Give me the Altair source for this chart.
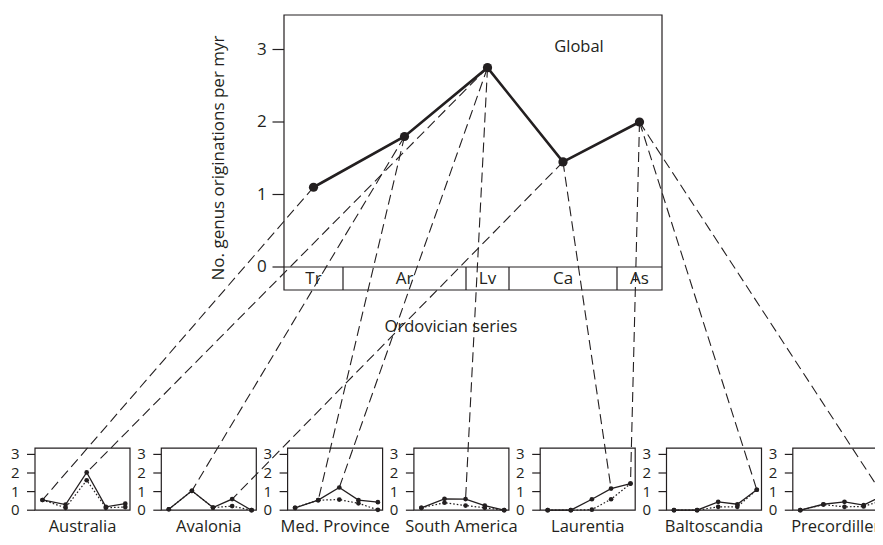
import altair as alt
import pandas as pd

# ---------------- data ----------------
series = ["Tr", "Ar", "Lv", "Ca", "As"]
series_edges = [0, 59, 182, 225, 333, 378]          # relative box widths of the series
global_rate = [1.1, 1.8, 2.75, 1.45, 2.0]

regions = ["Australia", "Avalonia", "Med. Province", "South America",
           "Laurentia", "Baltoscandia", "Precordillera"]

australia_solid = [0.55, 0.30, 2.03, 0.18, 0.35]
australia_dotted = [0.55, 0.13, 1.61, 0.13, 0.17]
avalonia_solid = [0.05, 1.04, 0.14, 0.60, 0.00]
avalonia_dotted = [0.05, 1.04, 0.14, 0.22, 0.00]
medprov_solid = [0.13, 0.54, 1.22, 0.54, 0.43]
medprov_dotted = [0.13, 0.54, 0.57, 0.37, 0.02]
samerica_solid = [0.13, 0.61, 0.60, 0.25, 0.00]
samerica_dotted = [0.13, 0.40, 0.25, 0.13, 0.00]
laurentia_solid = [0.00, 0.00, 0.59, 1.16, 1.43]
laurentia_dotted = [0.00, 0.00, 0.03, 0.59, 1.43]
baltoscandia_solid = [0.00, 0.00, 0.45, 0.32, 1.10]
baltoscandia_dotted = [0.00, 0.00, 0.18, 0.18, 1.10]
precordillera_solid = [0.00, 0.32, 0.45, 0.27, 0.80]
precordillera_dotted = [0.00, 0.30, 0.18, 0.20, 0.54]

link_series = ["Tr", "Ar", "Ar", "Lv", "Lv", "Lv", "Ca", "Ca", "As", "As", "As"]
link_region = ["Australia", "Avalonia", "Med. Province", "Australia", "Med. Province",
               "South America", "Avalonia", "Laurentia", "Laurentia", "Baltoscandia",
               "Precordillera"]

main_ticks = [0, 1, 2, 3]
panel_ticks = [0, 1, 2, 3]

y_title = "No. genus originations per myr"
x_title = "Ordovician series"
main_label = "Global"

solid_by_region = [australia_solid, avalonia_solid, medprov_solid, samerica_solid,
                   laurentia_solid, baltoscandia_solid, precordillera_solid]
dotted_by_region = [australia_dotted, avalonia_dotted, medprov_dotted, samerica_dotted,
                    laurentia_dotted, baltoscandia_dotted, precordillera_dotted]

# ---------------- layout (page pixels) ----------------
M_LEFT, M_WIDTH, M_TOP, M_BOTTOM = 284, 378, 15, 290
M_ZERO, M_UNIT = 267, 72.5
P_LEFT0, P_STEP, P_W, P_XSPAN = 35, 126.3, 95, 96
P_TOP, P_ZERO, P_UNIT = 448.2, 510.2, 18.6
NAME_BASE = 531.5
W, H = 867, 529
INK = "#231f20"
FONT = "Open Sans"


def fx(px):
    return (px - M_LEFT) / M_WIDTH


def vy(py):
    return (M_ZERO - py) / M_UNIT


edge_frac = [e / series_edges[-1] for e in series_edges]
mid_frac = [(edge_frac[i] + edge_frac[i + 1]) / 2 for i in range(len(series))]


def panel_left(k):
    return P_LEFT0 + k * P_STEP


def panel_x(k, f):
    return fx(panel_left(k) + f * P_XSPAN)


def panel_y(v):
    return vy(P_ZERO - v * P_UNIT)


XS = alt.Scale(domain=[fx(8), fx(8 + W)], nice=False, zero=False)
YS = alt.Scale(domain=[vy(8 + H), vy(8)], nice=False, zero=False)


def X(f="x"):
    return alt.X(f"{f}:Q", scale=XS, axis=None)


def Y(f="y"):
    return alt.Y(f"{f}:Q", scale=YS, axis=None)


# frames
frames = [dict(x=0, x2=1, y=vy(M_BOTTOM), y2=vy(M_TOP))]
for k in range(len(regions)):
    frames.append(dict(x=fx(panel_left(k)), x2=fx(panel_left(k) + P_W),
                       y=panel_y(0), y2=vy(P_TOP)))
frames_df = pd.DataFrame(frames)

# horizontal rules: zero line + ticks
hrules = [dict(x=0, x2=1, y=0)]
for t in main_ticks:
    hrules.append(dict(x=fx(M_LEFT - 11.5), x2=0, y=t))
for k in range(len(regions)):
    for t in panel_ticks:
        hrules.append(dict(x=fx(panel_left(k) - 8), x2=fx(panel_left(k)), y=panel_y(t)))
hrules_df = pd.DataFrame(hrules)

# vertical dividers of the series boxes
vrules_df = pd.DataFrame([dict(x=edge_frac[i], y=vy(M_BOTTOM), y2=0)
                          for i in range(1, len(series))])

# texts
stage_txt = pd.DataFrame([dict(x=mid_frac[i], y=vy(278.5), text=s) for i, s in enumerate(series)])
main_tick_txt = pd.DataFrame([dict(x=fx(M_LEFT - 17.3), y=t, text=str(t)) for t in main_ticks])
panel_tick_txt = pd.DataFrame([dict(x=fx(panel_left(k) - 15.5), y=panel_y(t), text=str(t))
                               for k in range(len(regions)) for t in panel_ticks])
name_txt = pd.DataFrame([dict(x=fx(panel_left(k) + P_W / 2), y=vy(NAME_BASE), text=r)
                         for k, r in enumerate(regions)])
misc_txt = pd.DataFrame([dict(x=fx(579), y=vy(51.5), text=main_label),
                         dict(x=fx(451), y=vy(331.5), text=x_title)])
title_txt = pd.DataFrame([dict(x=fx(219), y=vy(158), text=y_title)])

# series data
global_df = pd.DataFrame(dict(x=mid_frac, y=global_rate, idx=list(range(len(series)))))
rows = []
for k, r in enumerate(regions):
    for i in range(len(series)):
        rows.append(dict(region=r, idx=i, kind="solid", x=panel_x(k, mid_frac[i]),
                         y=panel_y(solid_by_region[k][i])))
        rows.append(dict(region=r, idx=i, kind="dotted", x=panel_x(k, mid_frac[i]),
                         y=panel_y(dotted_by_region[k][i])))
panel_df = pd.DataFrame(rows)

links = []
for s, r in zip(link_series, link_region):
    i = series.index(s)
    k = regions.index(r)
    links.append(dict(x=mid_frac[i], y=global_rate[i],
                      x2=panel_x(k, mid_frac[i]), y2=panel_y(solid_by_region[k][i])))
links_df = pd.DataFrame(links)

# ---------------- layers ----------------
frame_layer = alt.Chart(frames_df).mark_rect(fillOpacity=0, stroke=INK, strokeWidth=1.2).encode(
    x=X(), x2="x2", y=Y(), y2="y2")
hrule_layer = alt.Chart(hrules_df).mark_rule(color=INK, strokeWidth=1.2).encode(
    x=X(), x2="x2", y=Y())
vrule_layer = alt.Chart(vrules_df).mark_rule(color=INK, strokeWidth=1.2).encode(
    x=X(), y=Y(), y2="y2")


def text_layer(df, **kw):
    base = dict(font=FONT, color=INK, fontSize=17)
    base.update(kw)
    return alt.Chart(df).mark_text(**base).encode(x=X(), y=Y(), text="text:N")


texts = [
    text_layer(stage_txt, align="center", baseline="middle"),
    text_layer(main_tick_txt, align="right", baseline="middle"),
    text_layer(panel_tick_txt, align="right", baseline="middle", fontSize=15),
    text_layer(name_txt, align="center", baseline="alphabetic", fontSize=16.5),
    text_layer(misc_txt, align="center", baseline="alphabetic", fontSize=16.5),
    text_layer(title_txt, align="center", baseline="middle", angle=270),
]

global_line = alt.Chart(global_df).mark_line(color=INK, strokeWidth=2.6).encode(
    x=X(), y=Y(), order="idx:Q")
global_pts = alt.Chart(global_df).mark_circle(color=INK, size=85, opacity=1).encode(x=X(), y=Y())

solid_line = alt.Chart(panel_df).transform_filter(alt.datum.kind == "solid").mark_line(
    color=INK, strokeWidth=1.3).encode(x=X(), y=Y(), detail="region:N", order="idx:Q")
dotted_line = alt.Chart(panel_df).transform_filter(alt.datum.kind == "dotted").mark_line(
    color=INK, strokeWidth=1.2, strokeDash=[1.6, 2]).encode(
    x=X(), y=Y(), detail="region:N", order="idx:Q")
panel_pts = alt.Chart(panel_df).mark_circle(color=INK, size=22, opacity=1).encode(x=X(), y=Y())

link_layer = alt.Chart(links_df).mark_rule(color=INK, strokeWidth=1.1, strokeDash=[10, 5]).encode(
    x=X(), y=Y(), x2="x2", y2="y2")

chart = alt.layer(
    frame_layer, hrule_layer, vrule_layer, *texts,
    solid_line, dotted_line, link_layer, global_line, global_pts, panel_pts,
).properties(
    width=W, height=H, padding=0, autosize=alt.AutoSizeParams(type="none"),
).configure_view(stroke=None)

chart.save("out.html", embed_options={"renderer": "svg", "actions": False})
